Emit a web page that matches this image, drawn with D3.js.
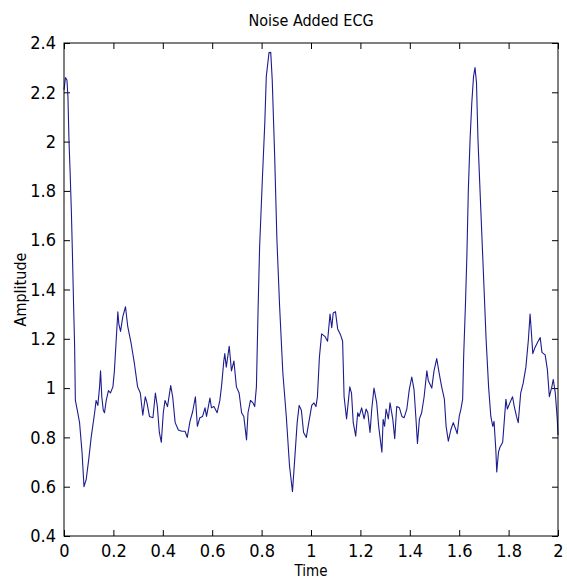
<!DOCTYPE html>
<html>
<head>
<meta charset="utf-8">
<script src="https://cdn.jsdelivr.net/npm/d3@7/dist/d3.min.js"></script>
<style>
  body { margin: 0; background: #fff; }
  svg { display: block; }
  text { font-family: "Liberation Sans Narrow", "DejaVu Sans Condensed", "Liberation Sans", sans-serif; fill: #000; }
</style>
</head>
<body>
<div id="chart"></div>
<script>
// sample times (s)
const time = [
  0.000, 0.006, 0.012, 0.016, 0.020, 0.025, 0.030, 0.034, 0.039, 0.043,
  0.046, 0.054, 0.063, 0.073, 0.081, 0.090, 0.100, 0.110, 0.124, 0.130,
  0.137, 0.144, 0.148, 0.153, 0.159, 0.164, 0.171, 0.180, 0.188, 0.198,
  0.204, 0.211, 0.218, 0.222, 0.229, 0.238, 0.249, 0.258, 0.272, 0.285,
  0.298, 0.309, 0.319, 0.329, 0.336, 0.346, 0.360, 0.370, 0.378, 0.386,
  0.394, 0.402, 0.409, 0.419, 0.432, 0.440, 0.450, 0.463, 0.477, 0.490,
  0.499, 0.510, 0.521, 0.532, 0.540, 0.550, 0.561, 0.571, 0.577, 0.591,
  0.597, 0.607, 0.620, 0.631, 0.638, 0.647, 0.651, 0.657, 0.669, 0.678,
  0.688, 0.698, 0.709, 0.719, 0.728, 0.739, 0.745, 0.755, 0.765, 0.772,
  0.779, 0.786, 0.792, 0.803, 0.813, 0.819, 0.830, 0.837, 0.843, 0.853,
  0.862, 0.873, 0.886, 0.900, 0.913, 0.925, 0.935, 0.944, 0.952, 0.961,
  0.970, 0.981, 0.991, 1.003, 1.012, 1.020, 1.026, 1.034, 1.043, 1.056,
  1.067, 1.077, 1.084, 1.090, 1.099, 1.108, 1.120, 1.128, 1.134, 1.144,
  1.157, 1.164, 1.171, 1.181, 1.189, 1.195, 1.205, 1.215, 1.223, 1.230,
  1.239, 1.246, 1.255, 1.266, 1.274, 1.287, 1.292, 1.298, 1.304, 1.313,
  1.320, 1.331, 1.339, 1.347, 1.358, 1.368, 1.377, 1.388, 1.398, 1.408,
  1.417, 1.425, 1.431, 1.439, 1.448, 1.458, 1.469, 1.475, 1.489, 1.498,
  1.509, 1.519, 1.529, 1.540, 1.547, 1.556, 1.566, 1.576, 1.587, 1.592,
  1.600, 1.607, 1.614, 1.618, 1.625, 1.631, 1.637, 1.644, 1.651, 1.658,
  1.664, 1.670, 1.676, 1.687, 1.698, 1.709, 1.719, 1.728, 1.736, 1.741,
  1.748, 1.752, 1.759, 1.765, 1.776, 1.782, 1.789, 1.795, 1.805, 1.816,
  1.823, 1.832, 1.839, 1.849, 1.859, 1.870, 1.880, 1.887, 1.891, 1.898,
  1.907, 1.917, 1.928, 1.935, 1.948, 1.957, 1.965, 1.975, 1.981, 1.989,
  1.997, 2.000
];

// amplitude at each sample
const amplitude = [
  2.21, 2.26, 2.25, 2.18, 2.01, 1.87, 1.71, 1.55, 1.33, 1.17,
  0.95, 0.91, 0.86, 0.74, 0.60, 0.63, 0.71, 0.80, 0.90, 0.95,
  0.93, 1.005, 1.07, 0.965, 0.91, 0.90, 0.95, 0.99, 0.98, 1.005,
  1.07, 1.19, 1.31, 1.26, 1.23, 1.29, 1.33, 1.25, 1.18, 1.10,
  1.005, 0.98, 0.89, 0.965, 0.94, 0.885, 0.88, 0.98, 0.925, 0.82,
  0.78, 0.90, 0.95, 0.925, 1.01, 0.965, 0.86, 0.83, 0.825, 0.825,
  0.80, 0.865, 0.905, 0.965, 0.845, 0.88, 0.885, 0.92, 0.885, 0.96,
  0.92, 0.925, 0.90, 0.95, 1.01, 1.11, 1.14, 1.085, 1.17, 1.07,
  1.11, 1.005, 0.98, 0.90, 0.885, 0.79, 0.90, 0.95, 0.94, 0.925,
  1.005, 1.33, 1.573, 1.845, 2.077, 2.264, 2.361, 2.362, 2.251, 1.938,
  1.602, 1.33, 1.062, 0.885, 0.685, 0.58, 0.725, 0.86, 0.93, 0.91,
  0.82, 0.80, 0.86, 0.93, 0.94, 0.925, 0.965, 1.125, 1.22, 1.21,
  1.19, 1.30, 1.245, 1.305, 1.31, 1.24, 1.215, 1.19, 0.965, 0.875,
  1.005, 0.98, 0.86, 0.805, 0.90, 0.885, 0.92, 0.875, 0.915, 0.90,
  0.82, 0.915, 1.00, 0.94, 0.845, 0.74, 0.873, 0.845, 0.915, 0.875,
  0.94, 0.875, 0.795, 0.925, 0.92, 0.885, 0.88, 0.915, 0.995, 1.045,
  0.995, 0.875, 0.775, 0.875, 0.90, 0.965, 1.07, 1.03, 1.00, 1.07,
  1.12, 1.06, 1.005, 0.955, 0.845, 0.785, 0.83, 0.86, 0.83, 0.815,
  0.885, 0.915, 0.955, 1.127, 1.33, 1.533, 1.805, 2.008, 2.158, 2.264,
  2.300, 2.239, 2.008, 1.736, 1.468, 1.196, 1.005, 0.885, 0.845, 0.865,
  0.755, 0.66, 0.74, 0.76, 0.78, 0.86, 0.955, 0.915, 0.94, 0.965,
  0.925, 0.885, 0.86, 0.98, 1.02, 1.085, 1.195, 1.30, 1.245, 1.14,
  1.165, 1.185, 1.205, 1.145, 1.135, 1.075, 0.965, 1.005, 1.035, 0.98,
  0.875, 0.81
];

const xTicks = [0, 0.2, 0.4, 0.6, 0.8, 1, 1.2, 1.4, 1.6, 1.8, 2];
const yTicks = [0.4, 0.6, 0.8, 1, 1.2, 1.4, 1.6, 1.8, 2, 2.2, 2.4];

const chartTitle = "Noise Added ECG";
const xLabel = "Time";
const yLabel = "Amplitude";

const width = 567;
const height = 582;
const marginLeft = 64;
const marginRight = 9;
const marginTop = 43;
const marginBottom = 46;
const tickLen = 6;
const fontSize = 18;

const data = time.map((t, i) => ({t: t, v: amplitude[i]}));

const x = d3.scaleLinear()
    .domain([0, 2])
    .range([marginLeft, width - marginRight]);

const y = d3.scaleLinear()
    .domain([0.4, 2.4])
    .range([height - marginBottom, marginTop]);

const svg = d3.select("#chart").append("svg")
    .attr("width", width)
    .attr("height", height);

const fmt = d => String(d);

// bottom axis with labels, ticks pointing in
svg.append("g")
    .attr("transform", `translate(0,${height - marginBottom})`)
    .call(d3.axisBottom(x).tickValues(xTicks).tickFormat(fmt).tickSizeInner(-tickLen).tickSizeOuter(0).tickPadding(8))
    .call(g => g.select(".domain").remove())
    .call(g => g.selectAll(".tick line").attr("stroke", "#000"))
    .call(g => g.selectAll("text").style("font-size", fontSize + "px").attr("fill", "#000"));

// top ticks only
svg.append("g")
    .attr("transform", `translate(0,${marginTop})`)
    .call(d3.axisTop(x).tickValues(xTicks).tickFormat("").tickSizeInner(-tickLen).tickSizeOuter(0))
    .call(g => g.select(".domain").remove())
    .call(g => g.selectAll(".tick line").attr("stroke", "#000"));

// left axis with labels
svg.append("g")
    .attr("transform", `translate(${marginLeft},0)`)
    .call(d3.axisLeft(y).tickValues(yTicks).tickFormat(fmt).tickSizeInner(-tickLen).tickSizeOuter(0).tickPadding(8))
    .call(g => g.select(".domain").remove())
    .call(g => g.selectAll(".tick line").attr("stroke", "#000"))
    .call(g => g.selectAll("text").style("font-size", fontSize + "px").attr("fill", "#000"));

// right ticks only
svg.append("g")
    .attr("transform", `translate(${width - marginRight},0)`)
    .call(d3.axisRight(y).tickValues(yTicks).tickFormat("").tickSizeInner(-tickLen).tickSizeOuter(0))
    .call(g => g.select(".domain").remove())
    .call(g => g.selectAll(".tick line").attr("stroke", "#000"));

// the trace
const line = d3.line()
    .x(d => x(d.t))
    .y(d => y(d.v));

svg.append("path")
    .datum(data)
    .attr("fill", "none")
    .attr("stroke", "#1c1c8e")
    .attr("stroke-width", 1.1)
    .attr("stroke-linejoin", "round")
    .attr("d", line);

// axes box
svg.append("rect")
    .attr("x", marginLeft)
    .attr("y", marginTop)
    .attr("width", width - marginLeft - marginRight)
    .attr("height", height - marginTop - marginBottom)
    .attr("fill", "none")
    .attr("stroke", "#000")
    .attr("stroke-width", 1);

// title and labels
svg.append("text")
    .attr("x", (marginLeft + width - marginRight) / 2)
    .attr("y", 26)
    .attr("text-anchor", "middle")
    .style("font-size", "16px")
    .text(chartTitle);

svg.append("text")
    .attr("x", (marginLeft + width - marginRight) / 2)
    .attr("y", 576)
    .attr("text-anchor", "middle")
    .style("font-size", "15px")
    .text(xLabel);

svg.append("text")
    .attr("transform", `translate(26,${(marginTop + height - marginBottom) / 2}) rotate(-90)`)
    .attr("text-anchor", "middle")
    .style("font-size", "16px")
    .text(yLabel);
</script>
</body>
</html>
